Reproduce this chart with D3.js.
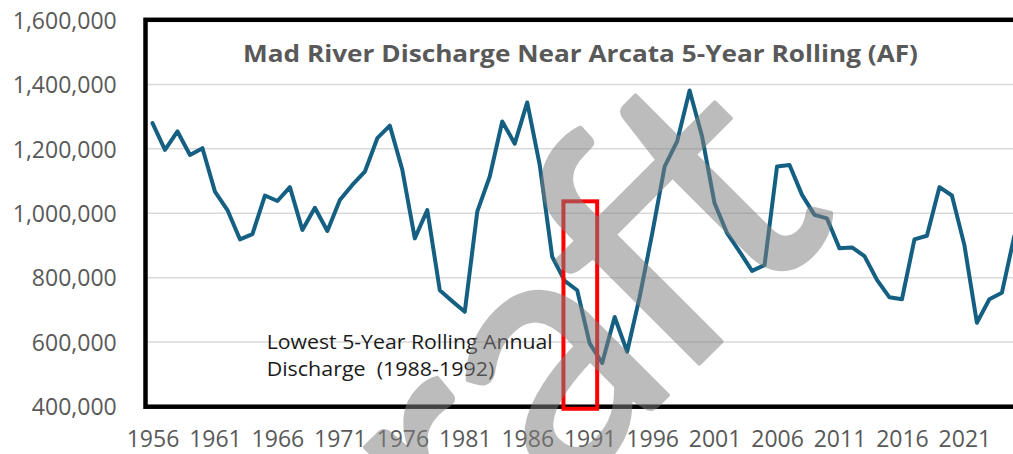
<!DOCTYPE html>
<html><head><meta charset="utf-8">
<script src="https://cdn.jsdelivr.net/npm/d3@7"></script>
<style>html,body{margin:0;padding:0;background:#fff;overflow:hidden}</style>
</head><body>
<svg id="chart" width="1013" height="454"></svg>
<script>
const years = [1956,1957,1958,1959,1960,1961,1962,1963,1964,1965,1966,1967,1968,1969,1970,
  1971,1972,1973,1974,1975,1976,1977,1978,1979,1980,1981,1982,1983,1984,1985,1986,1987,1988,
  1989,1990,1991,1992,1993,1994,1995,1996,1997,1998,1999,2000,2001,2002,2003,2004,2005,2006,
  2007,2008,2009,2010,2011,2012,2013,2014,2015,2016,2017,2018,2019,2020,2021,2022,2023,2024,2025];
const discharge = [1280000,1197000,1254000,1181000,1202000,1067000,1010000,919000,935000,1055000,
  1038000,1081000,948000,1017000,945000,1041000,1088000,1129000,1233000,1272000,1135000,922000,
  1010000,761000,727000,694000,1005000,1114000,1285000,1216000,1344000,1150000,865000,790000,
  761000,596000,535000,678000,570000,740000,936000,1145000,1223000,1381000,1238000,1031000,
  938000,881000,821000,839000,1145000,1150000,1057000,995000,984000,891000,894000,867000,793000,
  739000,733000,919000,930000,1081000,1055000,901000,660000,733000,753000,930000];
const xTickYears = [1956,1961,1966,1971,1976,1981,1986,1991,1996,2001,2006,2011,2016,2021];
const yTicks = [400000,600000,800000,1000000,1200000,1400000,1600000];
const titleText = "Mad River Discharge Near Arcata 5-Year Rolling (AF)";
const noteLines = ["Lowest 5-Year Rolling Annual", "Discharge  (1988-1992)"];
const highlightYears = [1988.9, 1991.6];
const highlightValues = [1037000, 393000];
const watermarkParts = ["Dra", "f", "t"];

const svg = d3.select("#chart");
const x = d3.scaleLinear().domain([1956, 2021]).range([152.5, 964.4]);
const y = d3.scaleLinear().domain([400000, 1600000]).range([406.5, 20]);
const fmt = d3.format(",");

// gridlines
svg.append("g").selectAll("line").data(yTicks).join("line")
  .attr("x1", 146).attr("x2", 1013)
  .attr("y1", d => y(d)).attr("y2", d => y(d))
  .attr("stroke", "#d9d9d9").attr("stroke-width", 1.5);

// y axis labels
const yAxis = d3.axisLeft(y).tickValues(yTicks).tickFormat(fmt).tickSize(0).tickPadding(0);
const yg = svg.append("g").attr("transform", "translate(116.7,0)").call(yAxis);
yg.select(".domain").remove();
yg.selectAll("text").attr("font-family", "'Open Sans', sans-serif").attr("font-size", 23)
  .attr("fill", "#595959").attr("dy", "0.355em");

// x axis labels
const xAxis = d3.axisBottom(x).tickValues(xTickYears).tickFormat(d3.format("d")).tickSize(0).tickPadding(0);
const xg = svg.append("g").attr("transform", "translate(0,430)").call(xAxis);
xg.select(".domain").remove();
xg.selectAll("text").attr("font-family", "'Open Sans', sans-serif").attr("font-size", 23)
  .attr("fill", "#595959").attr("dy", "0.72em");

// frame
svg.append("rect").attr("x", 145.5).attr("y", 19.8).attr("width", 1000).attr("height", 386.9)
  .attr("fill", "none").attr("stroke", "#000").attr("stroke-width", 4.5);

// title
svg.append("text").attr("x", 580.5).attr("y", 61.5).attr("text-anchor", "middle")
  .attr("font-family", "'Open Sans', sans-serif").attr("font-weight", 700).attr("font-size", 22.5)
  .attr("fill", "#595959").attr("textLength", 675).attr("lengthAdjust", "spacingAndGlyphs")
  .text(titleText);

// line
const line = d3.line().x((d, i) => x(years[i])).y(d => y(d));
svg.append("path").datum(discharge).attr("d", line).attr("fill", "none")
  .attr("stroke", "#156082").attr("stroke-width", 4).attr("stroke-linejoin", "round")
  .attr("stroke-linecap", "round");

// annotation
const noteX = x(1965.14);
const noteLens = [286, 227.6];
noteLines.forEach((t, i) => {
  svg.append("text").attr("x", noteX).attr("y", y(577800) + i * 26.5)
    .attr("font-family", "'Open Sans', sans-serif").attr("font-size", 20.5).attr("fill", "#1a1a1a")
    .style("white-space", "pre").attr("textLength", noteLens[i]).attr("lengthAdjust", "spacingAndGlyphs")
    .text(t);
});

// highlight box
svg.append("rect").attr("x", x(highlightYears[0])).attr("y", y(highlightValues[0]))
  .attr("width", x(highlightYears[1]) - x(highlightYears[0]))
  .attr("height", y(highlightValues[1]) - y(highlightValues[0]))
  .attr("fill", "none").attr("stroke", "#ff0000").attr("stroke-width", 4);

// watermark
const wmG = svg.append("g").attr("opacity", 0.52);
const wm = wmG.append("text")
  .attr("font-family", "Lato, sans-serif").attr("font-size", 350)
  .attr("fill", "#808080").attr("stroke", "#808080").attr("stroke-width", 4)
  .attr("stroke-linejoin", "round");
const fShift = -12;
wm.append("tspan").text(watermarkParts[0]);
wm.append("tspan").attr("dx", fShift).text(watermarkParts[1]);
wm.append("tspan").attr("dx", -22).text(watermarkParts[2]);
const offF = wm.node().getSubStringLength(0, 3);
const wf = wm.node().getSubStringLength(3, 1);
const along = offF + fShift + 0.35 * wf;
const ang = -45 * Math.PI / 180;
const P = [733, 330];
const ox = P[0] - along * Math.cos(ang), oy = P[1] - along * Math.sin(ang);
wm.attr("transform", `translate(${ox},${oy}) rotate(-45)`);
</script>
</body></html>
